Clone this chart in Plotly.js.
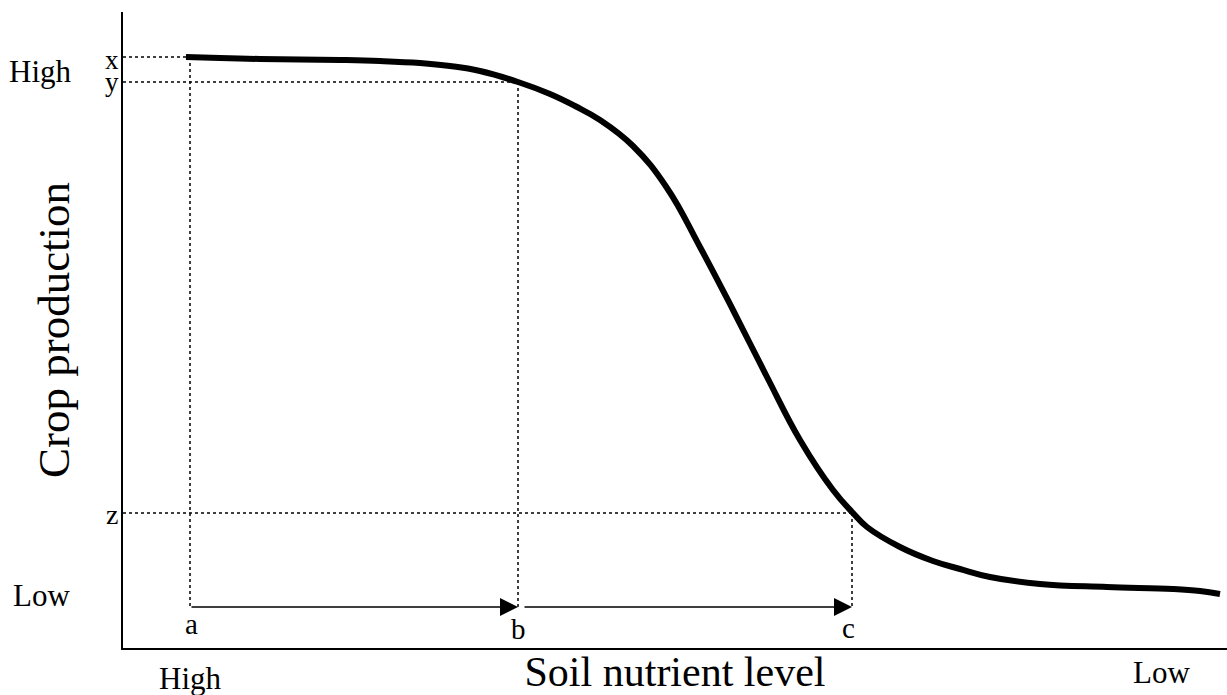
<!DOCTYPE html>
<html>
<head>
<meta charset="utf-8">
<script src="https://cdn.plot.ly/plotly-3.0.1.min.js"></script>
<style>html,body{margin:0;padding:0;background:#fff;}#chart{width:1227px;height:695px;}</style>
</head>
<body>
<div id="chart"></div>
<script>
// Response curve: soil nutrient level (decreasing to the right) vs crop production
const curveX = [63, 97, 137, 177, 217, 257, 297, 327, 357, 395, 427, 452, 477, 510, 544, 577, 610, 644, 677, 710, 730, 744, 777, 810, 837, 867, 917, 984, 1050, 1077, 1097];
const curveY = [591, 590, 589, 588.5, 588, 587, 585, 582, 577, 566, 554, 542, 528, 502, 460, 401, 338, 271, 208, 158, 135, 121, 101, 87, 79, 71, 64, 61, 59, 57, 54];

// Reference points
const levelNames = ["a", "b", "c"];
const levelX = [67, 395, 729];
const prodNames = ["x", "y", "z"];
const prodY = [591, 566, 135];
const arrowY = 41;

const axisEndLabels = {yHigh: "High", yLow: "Low", xHigh: "High", xLow: "Low"};

const XMAX = 1104, YMAX = 636;
const FONT = "Liberation Serif, Times New Roman, serif";
const dot = {color: "#000", width: 1.5, dash: "dot"};

const traces = [];
// horizontal dotted guides from the y axis to the curve
const hEnd = [levelX[0] - 4, levelX[1], levelX[2]];
for (let i = 0; i < 3; i++) {
  traces.push({x: [0, hEnd[i]], y: [prodY[i], prodY[i]], mode: "lines", line: dot, hoverinfo: "skip", showlegend: false});
}
// vertical dotted guides from the curve down to the arrows
const vBottom = [arrowY, arrowY - 3, arrowY];
for (let i = 0; i < 3; i++) {
  traces.push({x: [levelX[i], levelX[i]], y: [prodY[i], vBottom[i]], mode: "lines", line: dot, hoverinfo: "skip", showlegend: false});
}
traces.push({x: curveX, y: curveY, mode: "lines", line: {color: "#000", width: 6, shape: "spline", smoothing: 1.2}, showlegend: false});

const ann = [];
// labels placed in paper coordinates (they sit outside the plotting area)
function txt(x, y, t, size) {
  ann.push({x: x / XMAX, y: y / YMAX, xref: "paper", yref: "paper", text: t, showarrow: false,
            font: {family: FONT, size: size, color: "#000"}, xanchor: "center", yanchor: "middle"});
}
// arrows a -> b -> c
const arrowStyle = {xref: "x", yref: "y", axref: "x", ayref: "y", showarrow: true, arrowhead: 2, arrowsize: 2.4, arrowwidth: 1.5, arrowcolor: "#000", standoff: 0, text: ""};
ann.push(Object.assign({x: levelX[1], y: arrowY, ax: levelX[0], ay: arrowY}, arrowStyle));
ann.push(Object.assign({x: levelX[2], y: arrowY, ax: levelX[1] + 5, ay: arrowY}, arrowStyle));

txt(-83, 577, axisEndLabels.yHigh, 31);
txt(-81, 53, axisEndLabels.yLow, 31);
txt(67, -30, axisEndLabels.xHigh, 31);
txt(1038, -24, axisEndLabels.xLow, 31);
txt(-11, 588, prodNames[0], 27);
txt(-11, 566, prodNames[1], 27);
txt(-11, 134, prodNames[2], 28);
txt(levelX[0] + 1, 24, levelNames[0], 29);
txt(levelX[1], 19, levelNames[1], 29);
txt(levelX[2] - 4, 20, levelNames[2], 29);

const layout = {
  width: 1227, height: 695,
  margin: {l: 123, r: 0, t: 12, b: 47, pad: 0},
  paper_bgcolor: "#fff", plot_bgcolor: "#fff",
  showlegend: false,
  font: {family: FONT, color: "#000"},
  xaxis: {range: [0, XMAX], showline: true, linecolor: "#000", linewidth: 2, showgrid: false, zeroline: false,
          showticklabels: false, ticks: "", automargin: false, fixedrange: true,
          title: {text: "Soil nutrient level", font: {family: FONT, size: 42, color: "#000"}, standoff: 14}},
  yaxis: {range: [0, YMAX], showline: true, linecolor: "#000", linewidth: 2, showgrid: false, zeroline: false,
          showticklabels: false, ticks: "", automargin: false, fixedrange: true,
          title: {text: "Crop production", font: {family: FONT, size: 45, color: "#000"}, standoff: 37}},
  annotations: ann
};
Plotly.newPlot("chart", traces, layout, {displayModeBar: false, staticPlot: true});
</script>
</body>
</html>
